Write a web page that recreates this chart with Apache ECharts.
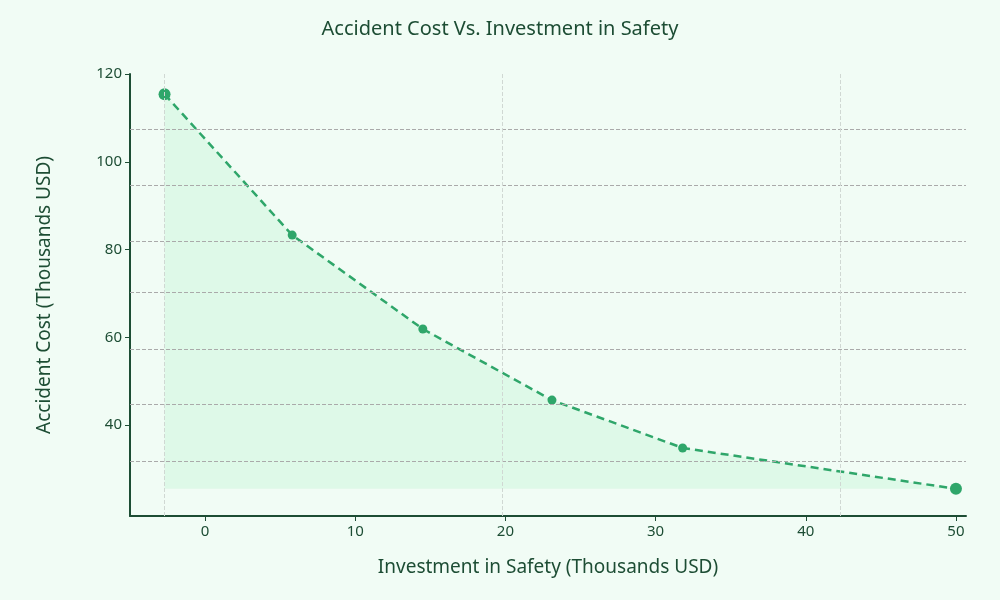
<!DOCTYPE html>
<html><head><meta charset="utf-8">
<script src="https://cdn.jsdelivr.net/npm/echarts@6/dist/echarts.min.js"></script>
<style>html,body{margin:0;padding:0;background:#f1fcf5}#c{width:1000px;height:600px}</style>
</head><body><div id="c"></div>
<script>
const investment = [-2.7, 5.8, 14.5, 23.1, 31.8, 50];
const accidentCost = [115.4, 83.3, 61.9, 45.7, 34.8, 25.5];
const xTicks = [0, 10, 20, 30, 40, 50];
const yTicks = [40, 60, 80, 100, 120];
const hGrid = [31.7, 44.7, 57.4, 70.2, 81.8, 94.6, 107.5];
const vGrid = [-2.7, 19.8, 42.3];
const txt = '#1d4d34', col = '#2fa66a';
const chart = echarts.init(document.getElementById('c'));
const base = accidentCost[accidentCost.length - 1];
chart.setOption({
  backgroundColor: '#f1fcf5',
  textStyle: {fontFamily: 'Noto Sans'},
  title: {text: 'Accident Cost Vs. Investment in Safety', left: 'center', top: 14,
    textStyle: {color: txt, fontSize: 20, fontWeight: 'normal', fontFamily: 'Noto Sans'}},
  grid: {left: 130, right: 34, top: 74, bottom: 84},
  xAxis: {type: 'value', min: -5, max: 50.67, name: 'Investment in Safety (Thousands USD)',
    nameLocation: 'middle', nameGap: 42, nameTextStyle: {color: txt, fontSize: 19},
    axisLine: {onZero: false, lineStyle: {color: txt, width: 2}}, axisTick: {show: true, customValues: xTicks, lineStyle: {color: txt}},
    axisLabel: {customValues: xTicks, color: txt, fontSize: 15}, splitLine: {show: false}},
  yAxis: {type: 'value', min: 19.3, max: 120, name: 'Accident Cost (Thousands USD)',
    nameLocation: 'middle', nameGap: 76, nameTextStyle: {color: txt, fontSize: 19},
    axisLine: {show: true, onZero: false, lineStyle: {color: txt, width: 2}}, axisTick: {show: true, customValues: yTicks, lineStyle: {color: txt}},
    axisLabel: {customValues: yTicks, color: txt, fontSize: 15}, splitLine: {show: false}},
  series: [
    {type: 'line', data: investment.map((x, i) => ({value: [x, accidentCost[i]], symbolSize: (i === 0 || i === investment.length - 1) ? 12 : 9})),
     symbol: 'circle', itemStyle: {color: col}, lineStyle: {color: col, width: 2.5, type: [8, 5]},
     areaStyle: {color: '#dcf8e7', opacity: 0.9, origin: base},
     markLine: {silent: true, symbol: 'none', label: {show: false},
       lineStyle: {color: '#aaaaaa', type: 'dashed', width: 1},
       data: hGrid.map(v => ({yAxis: v})).concat(vGrid.map(v => ({xAxis: v, lineStyle: {color: '#d0d8d3'}})))}}
  ]
});
</script></body></html>
